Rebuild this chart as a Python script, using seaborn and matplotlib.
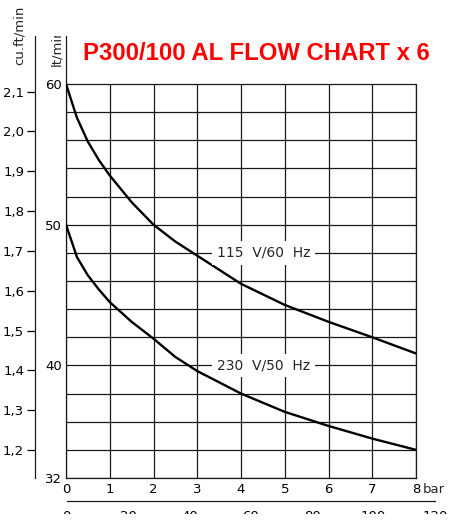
import matplotlib
matplotlib.use('Agg')
import matplotlib.pyplot as plt
import pandas as pd
import seaborn as sns
from matplotlib.ticker import FuncFormatter
from matplotlib.transforms import Bbox, TransformedBbox

# values (pressure in bar, flow in lt/min)
pressure_bar = [0, 0.25, 0.5, 0.75, 1, 1.5, 2, 2.5, 3, 4, 5, 6, 7, 8]
flow_115v = [60.0, 57.6, 55.9, 54.6, 53.5, 51.6, 50.0, 48.8, 47.8, 45.8, 44.3, 43.1, 42.0, 40.85]
flow_230v = [50.0, 47.7, 46.4, 45.4, 44.5, 43.1, 41.9, 40.6, 39.6, 38.0, 36.7, 35.7, 34.8, 34.0]
curve_names = ['115  V/60  Hz', '230  V/50  Hz']

bar_ticks = [0, 1, 2, 3, 4, 5, 6, 7, 8]
lpm_ticks = [32, 40, 50, 60]
lpm_grid = list(range(32, 61, 2))
cfm_ticks = [1.2, 1.3, 1.4, 1.5, 1.6, 1.7, 1.8, 1.9, 2.0, 2.1]
psi_ticks = [0, 20, 40, 60, 80, 100, 120]
psi_minor = [10, 30, 50, 70, 90, 110]

LPM_PER_CFM = 28.3168
W, H = 457, 529
FS = 9.5
GRID = '#1a1a1a'

sns.set_style('white')
plt.rcParams['font.family'] = ['DejaVu Sans']


def px(x0, y0, x1, y1):
    # pixel box (top-left origin) -> figure fraction rect
    return [x0 / W, 1 - y1 / H, (x1 - x0) / W, (y1 - y0) / H]


fig = plt.figure(figsize=(W / 100, H / 100), dpi=100)
ax = fig.add_axes(px(66, 36, 416, 478))

n = len(pressure_bar)
df = pd.DataFrame({
    'bar': pressure_bar * 2,
    'flow': flow_115v + flow_230v,
    'supply': [curve_names[0]] * n + [curve_names[1]] * n,
})
sns.lineplot(data=df, x='bar', y='flow', hue='supply', palette=['black', 'black'],
             linewidth=1.7, legend=False, ax=ax, zorder=3)

ax.set_xlim(0, 8)
ax.set_ylim(32, 63.41)
ax.set_xticks(bar_ticks)
ax.set_yticks(lpm_ticks)
ax.set_yticks(lpm_grid, minor=True)
ax.set_xlabel('')
ax.set_ylabel('')
# horizontal grid every 2 lt/min, vertical grid only up to 60
ax.grid(True, axis='y', which='both', color=GRID, linewidth=0.9, zorder=1)
ax.vlines(bar_ticks, lpm_grid[0], lpm_grid[-1], color=GRID, linewidth=0.9, zorder=1)
ax.tick_params(which='both', length=0, labelsize=FS, colors='black')
ax.tick_params(axis='y', pad=3)
ax.tick_params(axis='x', pad=3.5)
ax.spines['top'].set_visible(False)
ax.spines['right'].set_bounds(32, 60)
for s in ['left', 'bottom', 'right']:
    ax.spines[s].set_color(GRID)
    ax.spines[s].set_linewidth(0.9)

ax.annotate('bar', xy=(8, 0), xycoords=('data', 'axes fraction'), xytext=(5, -3.5),
            textcoords='offset points', ha='left', va='top', fontsize=FS)

# curve labels sitting on the grid lines
ax.text(4.51, 48, curve_names[0], ha='center', va='center', fontsize=10, zorder=4,
        bbox=dict(fc='white', ec='none', pad=3.5))
ax.text(4.51, 40, curve_names[1], ha='center', va='center', fontsize=10, zorder=4,
        bbox=dict(fc='white', ec='none', pad=3.5))

# cu.ft/min scale on the far left
sec = ax.secondary_yaxis(-31 / 350, functions=(lambda v: v / LPM_PER_CFM,
                                               lambda v: v * LPM_PER_CFM))
sec.set_yticks(cfm_ticks)
sec.yaxis.set_major_formatter(FuncFormatter(lambda v, _: f'{v:.1f}'.replace('.', ',')))
sec.tick_params(direction='out', length=5.8, width=0.9, labelsize=FS, pad=2, colors='black')
sec.spines['left'].set_color(GRID)
sec.spines['left'].set_linewidth(0.9)

fig.text(19 / W, 1 - 35 / H, 'cu.ft/min', rotation=90, ha='center', va='center', fontsize=FS)
lt = fig.text(57 / W, 1 - 66 / H, 'lt/min', rotation=90, ha='center', va='bottom', fontsize=FS)
lt.set_clip_box(TransformedBbox(Bbox.from_extents(0, 0, 1, 1 - 36 / H), fig.transFigure))
lt.set_clip_on(True)

# psi scale below
pax = fig.add_axes(px(66.7, 480, 435, 500.5))
pax.set_facecolor('none')
pax.set_xlim(0, 120)
pax.set_xticks(psi_ticks)
pax.set_xticks(psi_minor, minor=True)
pax.set_yticks([])
for s in ['left', 'top', 'right']:
    pax.spines[s].set_visible(False)
pax.spines['bottom'].set_color(GRID)
pax.spines['bottom'].set_linewidth(0.9)
pax.tick_params(which='both', direction='out', length=5, width=0.9, labelsize=FS, pad=1.5,
                colors='black')
clip = TransformedBbox(Bbox.from_extents(0, 15 / H, 1, 1), fig.transFigure)
for lab in pax.get_xticklabels():
    lab.set_clip_box(clip)
    lab.set_clip_on(True)

fig.text(256.5 / W, 1 - 53.5 / H, 'P300/100 AL FLOW CHART x 6', color='#ff0000',
         fontweight='bold', fontsize=17.2, family=['Liberation Sans', 'DejaVu Sans'],
         ha='center', va='center')

fig.savefig('out.png', dpi=100, facecolor='white')
